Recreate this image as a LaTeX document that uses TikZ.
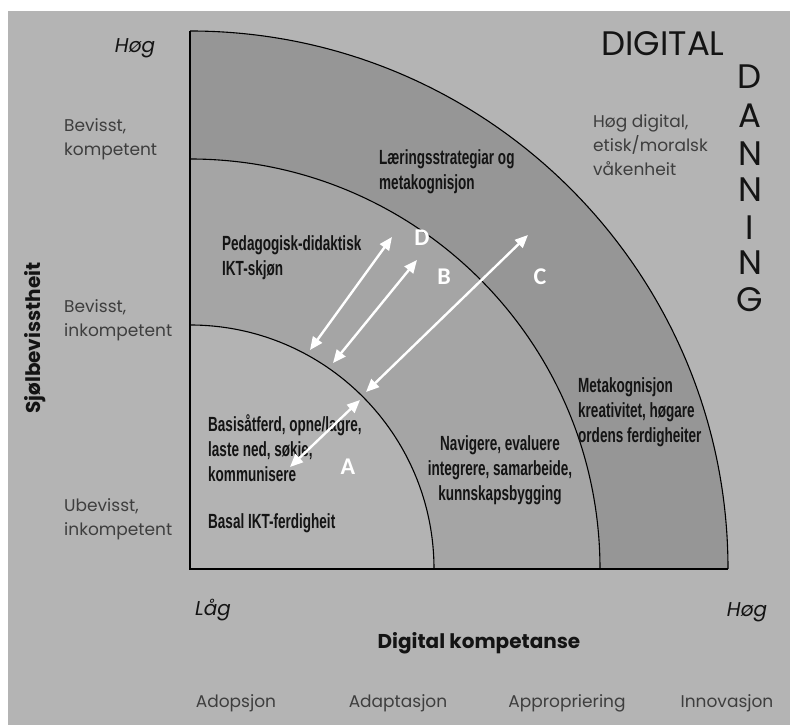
\documentclass[tikz,border=0pt]{standalone}
\usepackage{fontspec}
\setmainfont{Poppins}
\newfontfamily\condfont[FakeStretch=0.66]{Liberation Sans}
\newfontfamily\letterfont{Carlito}
\usetikzlibrary{arrows.meta}

\definecolor{panel}{RGB}{180,180,180}
\definecolor{outerband}{RGB}{150,150,150}
\definecolor{middleband}{RGB}{165,165,165}
\definecolor{innerzone}{RGB}{179,179,179}
\definecolor{labelgray}{RGB}{62,62,62}
\definecolor{ink}{RGB}{20,20,20}

\tikzset{
  levellabel/.style={font=\fontsize{17}{24}\selectfont, text=labelgray, align=left, anchor=west, inner sep=0pt},
  stagelabel/.style={font=\fontsize{17}{24}\selectfont, text=labelgray, inner sep=0pt},
  endlabel/.style={font=\itshape\fontsize{20}{24}\selectfont, text=ink, inner sep=0pt},
  axistitle/.style={font=\bfseries\fontsize{20}{24}\selectfont, text=ink, inner sep=0pt},
  zonetext/.style={font=\condfont\bfseries\fontsize{20.5}{25}\selectfont, text=ink, align=left, anchor=west, inner sep=0pt},
  bigletter/.style={font=\fontsize{34}{36}\selectfont, text=ink, inner sep=0pt},
  zoneletter/.style={font=\letterfont\bfseries\fontsize{24}{26}\selectfont, text=white, inner sep=0pt},
  flow/.style={draw=white, line width=2.4pt, {Triangle[length=13pt,width=11pt]}-{Triangle[length=13pt,width=11pt]}},
  ring/.style={draw=black, line width=1.1pt}
}

\begin{document}
\begin{tikzpicture}[x=1pt,y=1pt]
  % page and panel
  \fill[white] (0,0) rectangle (790,725);
  \fill[panel] (8,0) rectangle (790,714);
  \useasboundingbox (0,0) rectangle (790,725);

  % quarter rings around the corner of the axes
  \coordinate (O) at (190,156);
  \fill[outerband] (O) -- ++(0,538) arc[start angle=90, end angle=0, radius=538] -- cycle;
  \fill[middleband] (O) -- ++(0,410) arc[start angle=90, end angle=0, radius=410] -- cycle;
  \fill[innerzone] (O) -- ++(0,244) arc[start angle=90, end angle=0, radius=244] -- cycle;
  \draw[ring] (O) ++(0,538) arc[start angle=90, end angle=0, radius=538];
  \draw[ring] (O) ++(0,410) arc[start angle=90, end angle=0, radius=410];
  \draw[ring] (O) ++(0,244) arc[start angle=90, end angle=0, radius=244];

  % axes
  \draw[black, line width=1.4pt] (190,694) -- (O) -- (728,156);

  % vertical axis
  \node[endlabel] (yhigh) at (135,677) {Høg};
  \node[levellabel] (lvl3) at (64,586) {Bevisst,\\kompetent};
  \node[levellabel] (lvl2) at (64,405) {Bevisst,\\inkompetent};
  \node[levellabel] (lvl1) at (64,206) {Ubevisst,\\inkompetent};
  \node[axistitle, rotate=90] (ytitle) at (35,387) {Sjølbevisstheit};

  % horizontal axis
  \node[endlabel] (xlow) at (213,115) {Låg};
  \node[endlabel] (xhigh) at (747,113) {Høg};
  \node[axistitle] (xtitle) at (479,82) {Digital kompetanse};
  \node[stagelabel] (s1) at (236,22) {Adopsjon};
  \node[stagelabel] (s2) at (398,22) {Adaptasjon};
  \node[stagelabel] (s3) at (567,22) {Appropriering};
  \node[stagelabel] (s4) at (727,22) {Innovasjon};

  % title
  \node[bigletter] (digital) at (663,681) {DIGITAL};
  \node[bigletter] (d1) at (750,648) {D};
  \node[bigletter] (d2) at (750,609) {A};
  \node[bigletter] (d3) at (750,571) {N};
  \node[bigletter] (d4) at (750,535) {N};
  \node[bigletter] (d5) at (750,497) {I};
  \node[bigletter] (d6) at (750,462) {N};
  \node[bigletter] (d7) at (750,425) {G};
  \node[levellabel] (awake) at (593,580) {Høg digital,\\etisk/moralsk\\våkenheit};

  % zone descriptions
  \node[zonetext] (z4) at (379,553) {Læringsstrategiar og\\metakognisjon};
  \node[zonetext] (z3) at (222,467) {Pedagogisk-didaktisk\\IKT-skjøn};
  \node[zonetext] (z1) at (208,277) {Basisåtferd, opne/lagre,\\laste ned, søkje,\\kommunisere};
  \node[zonetext] (z0) at (208,202) {Basal IKT-ferdigheit};
  \node[zonetext, align=center, anchor=center] (z2) at (500,255) {Navigere, evaluere\\integrere, samarbeide,\\kunnskapsbygging};
  \node[zonetext] (z5) at (578,313) {Metakognisjon\\kreativitet, høgare\\ordens ferdigheiter};

  % transition arrows
  \coordinate (dlo) at (310,375);
  \coordinate (dhi) at (392,488);
  \coordinate (blo) at (333,362);
  \coordinate (bhi) at (417,465);
  \coordinate (clo) at (366,333);
  \coordinate (chi) at (528,490);
  \coordinate (alo) at (290,258);
  \coordinate (ahi) at (360,325);
  \draw[flow] (dlo) -- (dhi);
  \draw[flow] (blo) -- (bhi);
  \draw[flow] (clo) -- (chi);
  \draw[flow] (alo) -- (ahi);

  \node[zoneletter] (lD) at (422,487) {D};
  \node[zoneletter] (lB) at (444,448) {B};
  \node[zoneletter] (lC) at (540,448) {C};
  \node[zoneletter] (lA) at (348,258) {A};
\end{tikzpicture}
\end{document}
